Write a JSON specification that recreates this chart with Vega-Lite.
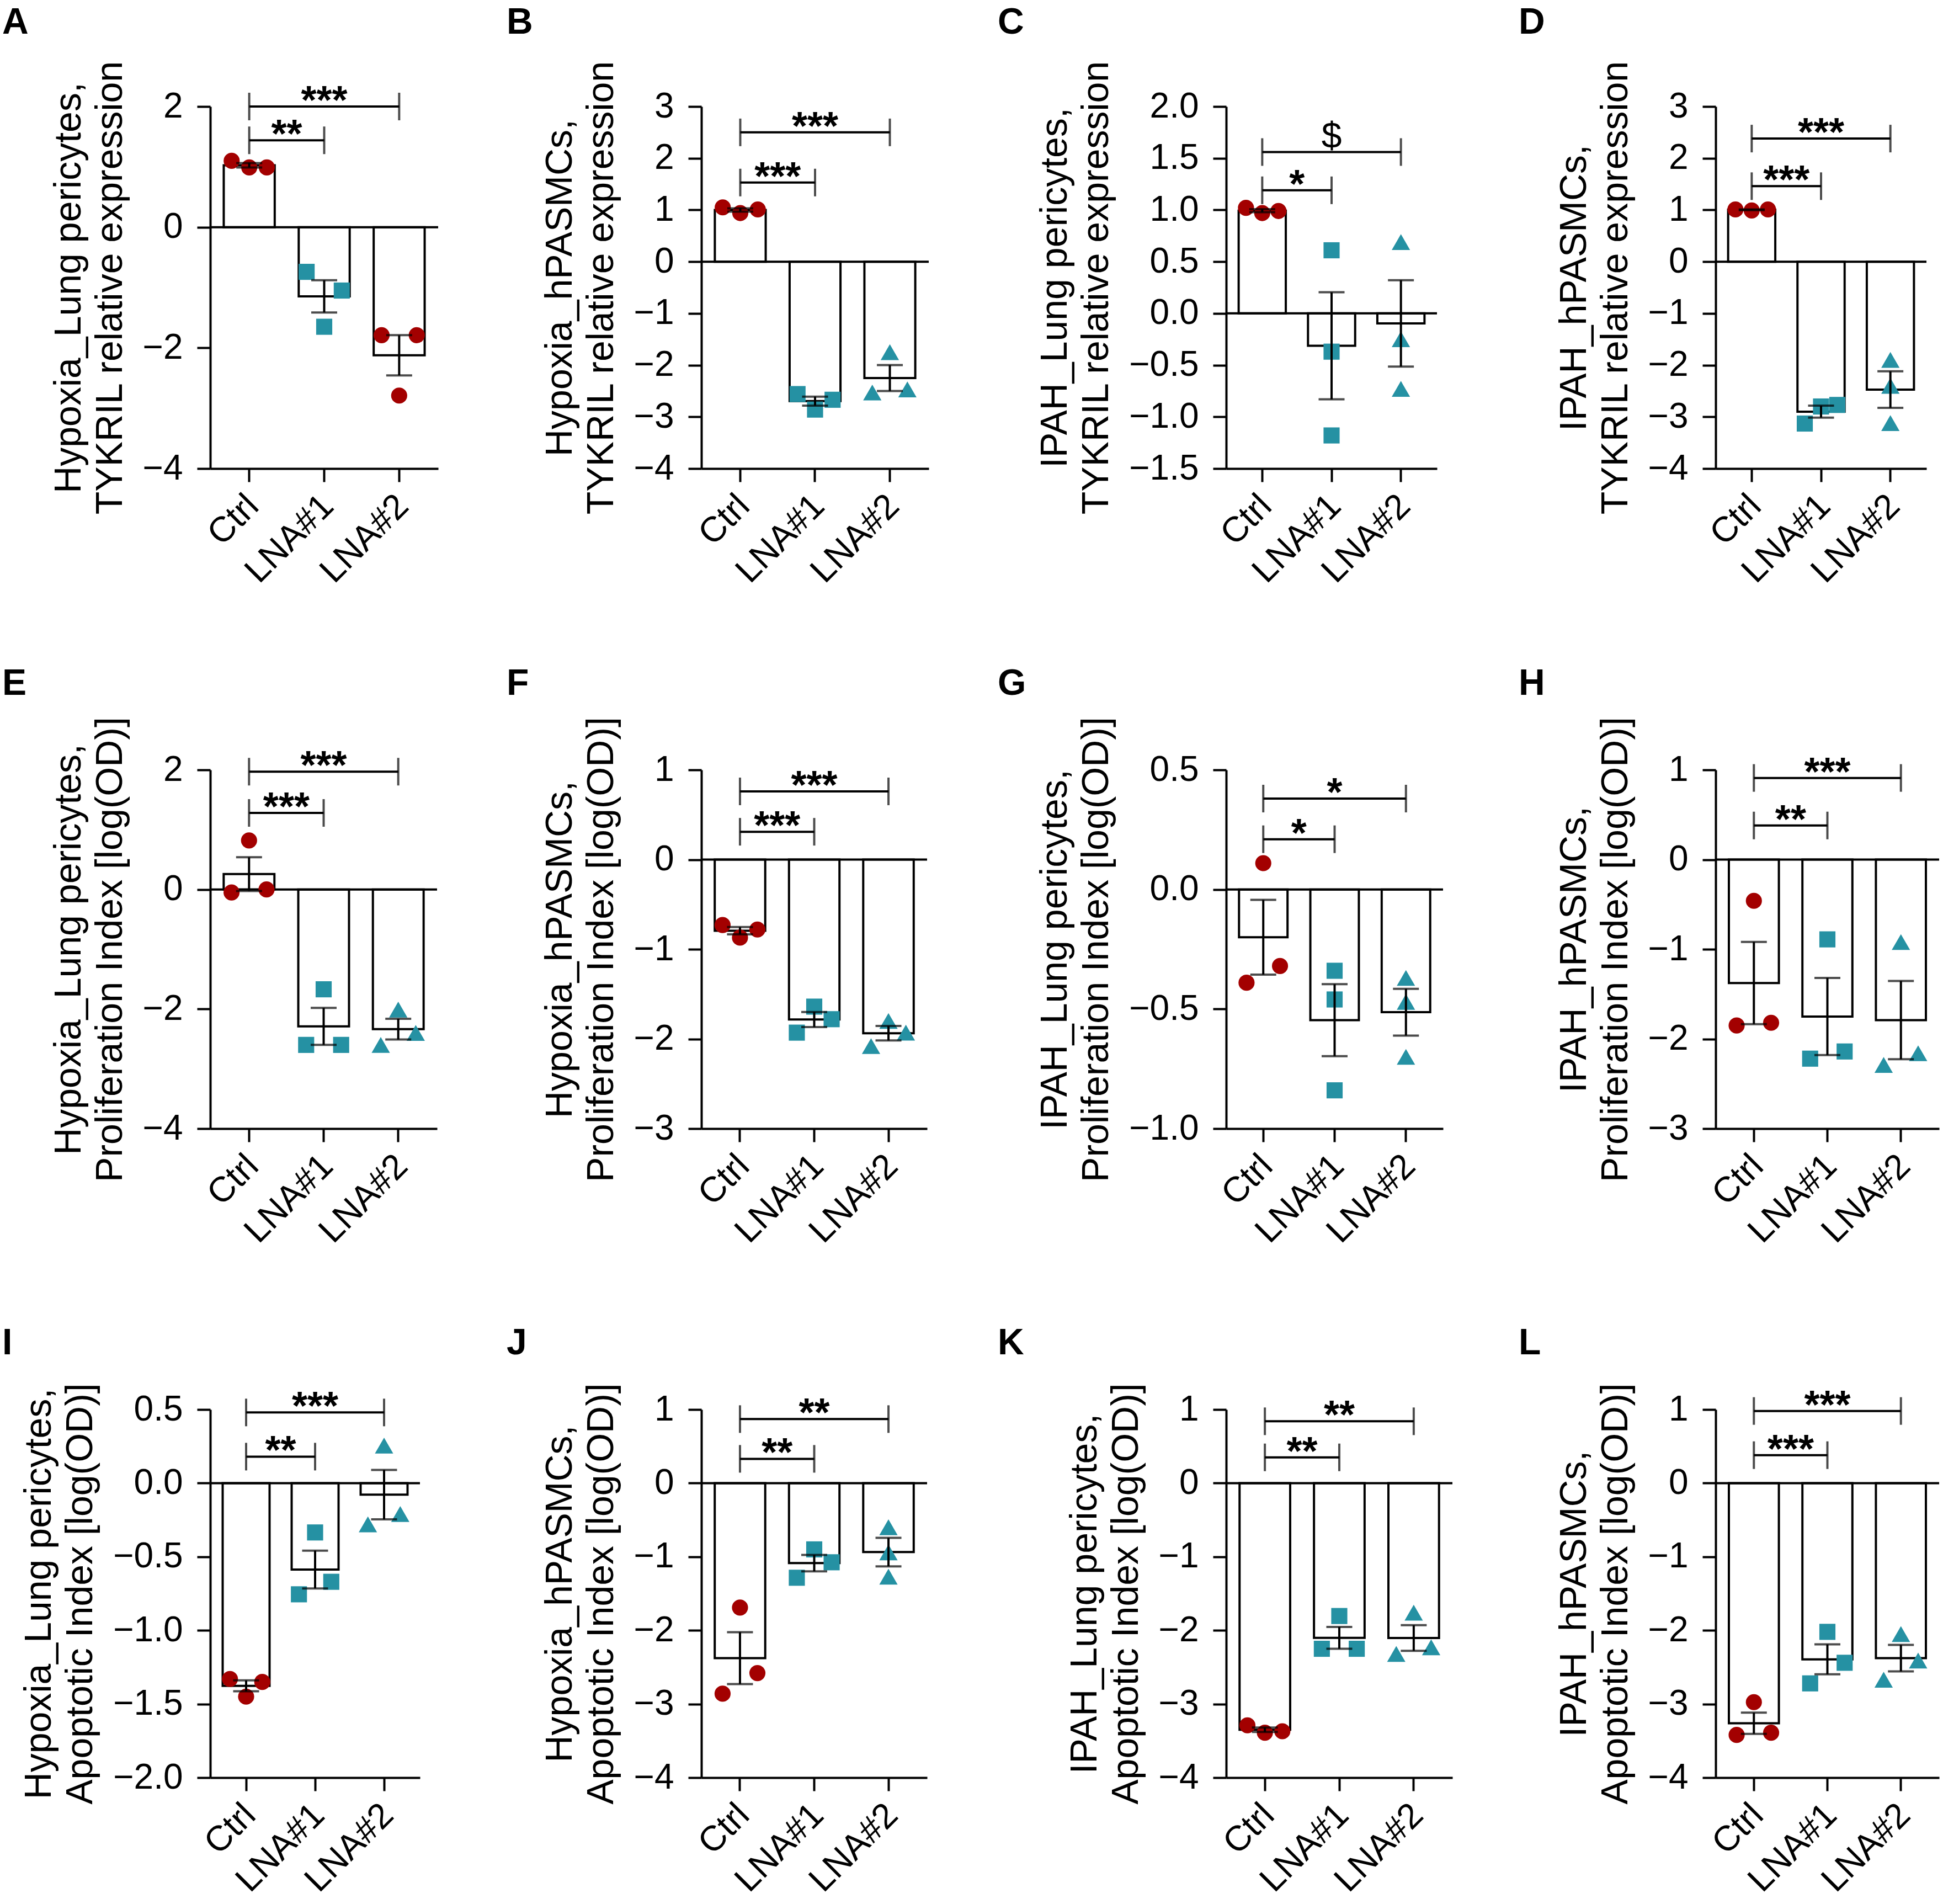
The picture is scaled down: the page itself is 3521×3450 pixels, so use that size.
{
"$schema": "https://vega.github.io/schema/vega-lite/v6.json",
"background": "white",
"padding": {"left": 4, "top": 8, "right": 0, "bottom": 0},
"config": {
 "font": "Liberation Sans",
 "view": {"stroke": null},
 "axis": {"grid": false, "domainColor": "black", "domainWidth": 4, "tickColor": "black", "tickWidth": 4, "labelColor": "black", "labelFont": "Liberation Sans", "labelFontSize": 64, "titleColor": "black", "titleFont": "Liberation Sans", "titleFontSize": 68, "titleFontWeight": "normal", "labelOverlap": false, "labelBound": false, "labelLimit": 0},
 "axisY": {"tickSize": 24, "labelPadding": 26, "titlePadding": 24, "titleLineHeight": 75},
 "axisX": {"tickSize": 24, "labelAngle": -45, "labelAlign": "right", "labelBaseline": "middle", "labelPadding": 34, "labelOffset": 7, "labelLimit": 0},
 "title": {"anchor": "start", "frame": "group", "font": "Liberation Sans", "fontSize": 66, "fontWeight": "bold", "color": "black", "baseline": "alphabetic"}
},
"datasets": {
 "pts": [
  {"p":"A","g":"Ctrl","r":"L","v":1.10},{"p":"A","g":"Ctrl","r":"C","v":0.99},{"p":"A","g":"Ctrl","r":"R","v":0.99},
  {"p":"A","g":"LNA#1","r":"L","v":-0.74},{"p":"A","g":"LNA#1","r":"C","v":-1.65},{"p":"A","g":"LNA#1","r":"R","v":-1.05},
  {"p":"A","g":"LNA#2","r":"L","v":-1.79},{"p":"A","g":"LNA#2","r":"C","v":-2.79},{"p":"A","g":"LNA#2","r":"R","v":-1.79},
  {"p":"B","g":"Ctrl","r":"L","v":1.05},{"p":"B","g":"Ctrl","r":"C","v":0.94},{"p":"B","g":"Ctrl","r":"R","v":1.01},
  {"p":"B","g":"LNA#1","r":"L","v":-2.56},{"p":"B","g":"LNA#1","r":"C","v":-2.86},{"p":"B","g":"LNA#1","r":"R","v":-2.67},
  {"p":"B","g":"LNA#2","r":"L","v":-2.53},{"p":"B","g":"LNA#2","r":"C","v":-1.75},{"p":"B","g":"LNA#2","r":"R","v":-2.47},
  {"p":"C","g":"Ctrl","r":"L","v":1.02},{"p":"C","g":"Ctrl","r":"C","v":0.97},{"p":"C","g":"Ctrl","r":"R","v":0.99},
  {"p":"C","g":"LNA#1","r":"C","v":0.61},{"p":"C","g":"LNA#1","r":"C","v":-0.37},{"p":"C","g":"LNA#1","r":"C","v":-1.18},
  {"p":"C","g":"LNA#2","r":"C","v":0.69},{"p":"C","g":"LNA#2","r":"C","v":-0.25},{"p":"C","g":"LNA#2","r":"C","v":-0.73},
  {"p":"D","g":"Ctrl","r":"L","v":1.01},{"p":"D","g":"Ctrl","r":"C","v":0.99},{"p":"D","g":"Ctrl","r":"R","v":1.01},
  {"p":"D","g":"LNA#1","r":"L","v":-3.13},{"p":"D","g":"LNA#1","r":"C","v":-2.80},{"p":"D","g":"LNA#1","r":"R","v":-2.77},
  {"p":"D","g":"LNA#2","r":"C","v":-1.90},{"p":"D","g":"LNA#2","r":"C","v":-2.40},{"p":"D","g":"LNA#2","r":"C","v":-3.12},
  {"p":"E","g":"Ctrl","r":"C","v":0.82},{"p":"E","g":"Ctrl","r":"L","v":-0.05},{"p":"E","g":"Ctrl","r":"R","v":0.0},
  {"p":"E","g":"LNA#1","r":"C","v":-1.67},{"p":"E","g":"LNA#1","r":"L","v":-2.60},{"p":"E","g":"LNA#1","r":"R","v":-2.60},
  {"p":"E","g":"LNA#2","r":"C","v":-2.01},{"p":"E","g":"LNA#2","r":"L","v":-2.60},{"p":"E","g":"LNA#2","r":"R","v":-2.40},
  {"p":"F","g":"Ctrl","r":"L","v":-0.73},{"p":"F","g":"Ctrl","r":"C","v":-0.87},{"p":"F","g":"Ctrl","r":"R","v":-0.78},
  {"p":"F","g":"LNA#1","r":"C","v":-1.64},{"p":"F","g":"LNA#1","r":"L","v":-1.93},{"p":"F","g":"LNA#1","r":"R","v":-1.78},
  {"p":"F","g":"LNA#2","r":"C","v":-1.80},{"p":"F","g":"LNA#2","r":"L","v":-2.08},{"p":"F","g":"LNA#2","r":"R","v":-1.93},
  {"p":"G","g":"Ctrl","r":"C","v":0.11},{"p":"G","g":"Ctrl","r":"R","v":-0.32},{"p":"G","g":"Ctrl","r":"L","v":-0.39},
  {"p":"G","g":"LNA#1","r":"C","v":-0.34},{"p":"G","g":"LNA#1","r":"C","v":-0.46},{"p":"G","g":"LNA#1","r":"C","v":-0.84},
  {"p":"G","g":"LNA#2","r":"C","v":-0.37},{"p":"G","g":"LNA#2","r":"C","v":-0.47},{"p":"G","g":"LNA#2","r":"C","v":-0.70},
  {"p":"H","g":"Ctrl","r":"C","v":-0.46},{"p":"H","g":"Ctrl","r":"L","v":-1.85},{"p":"H","g":"Ctrl","r":"R","v":-1.82},
  {"p":"H","g":"LNA#1","r":"C","v":-0.89},{"p":"H","g":"LNA#1","r":"L","v":-2.22},{"p":"H","g":"LNA#1","r":"R","v":-2.14},
  {"p":"H","g":"LNA#2","r":"C","v":-0.92},{"p":"H","g":"LNA#2","r":"L","v":-2.29},{"p":"H","g":"LNA#2","r":"R","v":-2.16},
  {"p":"I","g":"Ctrl","r":"L","v":-1.33},{"p":"I","g":"Ctrl","r":"R","v":-1.35},{"p":"I","g":"Ctrl","r":"C","v":-1.45},
  {"p":"I","g":"LNA#1","r":"C","v":-0.335},{"p":"I","g":"LNA#1","r":"R","v":-0.67},{"p":"I","g":"LNA#1","r":"L","v":-0.755},
  {"p":"I","g":"LNA#2","r":"C","v":0.255},{"p":"I","g":"LNA#2","r":"R","v":-0.21},{"p":"I","g":"LNA#2","r":"L","v":-0.28},
  {"p":"J","g":"Ctrl","r":"C","v":-1.69},{"p":"J","g":"Ctrl","r":"R","v":-2.58},{"p":"J","g":"Ctrl","r":"L","v":-2.86},
  {"p":"J","g":"LNA#1","r":"C","v":-0.90},{"p":"J","g":"LNA#1","r":"R","v":-1.075},{"p":"J","g":"LNA#1","r":"L","v":-1.285},
  {"p":"J","g":"LNA#2","r":"C","v":-0.60},{"p":"J","g":"LNA#2","r":"C","v":-0.94},{"p":"J","g":"LNA#2","r":"C","v":-1.27},
  {"p":"K","g":"Ctrl","r":"L","v":-3.29},{"p":"K","g":"Ctrl","r":"C","v":-3.39},{"p":"K","g":"Ctrl","r":"R","v":-3.37},
  {"p":"K","g":"LNA#1","r":"C","v":-1.805},{"p":"K","g":"LNA#1","r":"L","v":-2.25},{"p":"K","g":"LNA#1","r":"R","v":-2.25},
  {"p":"K","g":"LNA#2","r":"C","v":-1.76},{"p":"K","g":"LNA#2","r":"L","v":-2.32},{"p":"K","g":"LNA#2","r":"R","v":-2.23},
  {"p":"L","g":"Ctrl","r":"C","v":-2.975},{"p":"L","g":"Ctrl","r":"L","v":-3.42},{"p":"L","g":"Ctrl","r":"R","v":-3.39},
  {"p":"L","g":"LNA#1","r":"C","v":-2.02},{"p":"L","g":"LNA#1","r":"R","v":-2.44},{"p":"L","g":"LNA#1","r":"L","v":-2.72},
  {"p":"L","g":"LNA#2","r":"C","v":-2.05},{"p":"L","g":"LNA#2","r":"R","v":-2.41},{"p":"L","g":"LNA#2","r":"L","v":-2.67}
 ],
 "sig": [
  {"p":"A","b":"s","g":"Ctrl","v":1.44,"t":"**"},{"p":"A","b":"s","g":"LNA#1","v":1.44,"t":"**"},{"p":"A","b":"l","g":"Ctrl","v":2.0,"t":"***"},{"p":"A","b":"l","g":"LNA#2","v":2.0,"t":"***"},
  {"p":"B","b":"s","g":"Ctrl","v":1.53,"t":"***"},{"p":"B","b":"s","g":"LNA#1","v":1.53,"t":"***"},{"p":"B","b":"l","g":"Ctrl","v":2.5,"t":"***"},{"p":"B","b":"l","g":"LNA#2","v":2.5,"t":"***"},
  {"p":"C","b":"s","g":"Ctrl","v":1.19,"t":"*"},{"p":"C","b":"s","g":"LNA#1","v":1.19,"t":"*"},{"p":"C","b":"l","g":"Ctrl","v":1.56,"t":"$"},{"p":"C","b":"l","g":"LNA#2","v":1.56,"t":"$"},
  {"p":"D","b":"s","g":"Ctrl","v":1.46,"t":"***"},{"p":"D","b":"s","g":"LNA#1","v":1.46,"t":"***"},{"p":"D","b":"l","g":"Ctrl","v":2.38,"t":"***"},{"p":"D","b":"l","g":"LNA#2","v":2.38,"t":"***"},
  {"p":"E","b":"s","g":"Ctrl","v":1.28,"t":"***"},{"p":"E","b":"s","g":"LNA#1","v":1.28,"t":"***"},{"p":"E","b":"l","g":"Ctrl","v":1.97,"t":"***"},{"p":"E","b":"l","g":"LNA#2","v":1.97,"t":"***"},
  {"p":"F","b":"s","g":"Ctrl","v":0.31,"t":"***"},{"p":"F","b":"s","g":"LNA#1","v":0.31,"t":"***"},{"p":"F","b":"l","g":"Ctrl","v":0.76,"t":"***"},{"p":"F","b":"l","g":"LNA#2","v":0.76,"t":"***"},
  {"p":"G","b":"s","g":"Ctrl","v":0.21,"t":"*"},{"p":"G","b":"s","g":"LNA#1","v":0.21,"t":"*"},{"p":"G","b":"l","g":"Ctrl","v":0.38,"t":"*"},{"p":"G","b":"l","g":"LNA#2","v":0.38,"t":"*"},
  {"p":"H","b":"s","g":"Ctrl","v":0.38,"t":"**"},{"p":"H","b":"s","g":"LNA#1","v":0.38,"t":"**"},{"p":"H","b":"l","g":"Ctrl","v":0.91,"t":"***"},{"p":"H","b":"l","g":"LNA#2","v":0.91,"t":"***"},
  {"p":"I","b":"s","g":"Ctrl","v":0.18,"t":"**"},{"p":"I","b":"s","g":"LNA#1","v":0.18,"t":"**"},{"p":"I","b":"l","g":"Ctrl","v":0.48,"t":"***"},{"p":"I","b":"l","g":"LNA#2","v":0.48,"t":"***"},
  {"p":"J","b":"s","g":"Ctrl","v":0.33,"t":"**"},{"p":"J","b":"s","g":"LNA#1","v":0.33,"t":"**"},{"p":"J","b":"l","g":"Ctrl","v":0.87,"t":"**"},{"p":"J","b":"l","g":"LNA#2","v":0.87,"t":"**"},
  {"p":"K","b":"s","g":"Ctrl","v":0.35,"t":"**"},{"p":"K","b":"s","g":"LNA#1","v":0.35,"t":"**"},{"p":"K","b":"l","g":"Ctrl","v":0.84,"t":"**"},{"p":"K","b":"l","g":"LNA#2","v":0.84,"t":"**"},
  {"p":"L","b":"s","g":"Ctrl","v":0.38,"t":"***"},{"p":"L","b":"s","g":"LNA#1","v":0.38,"t":"***"},{"p":"L","b":"l","g":"Ctrl","v":0.98,"t":"***"},{"p":"L","b":"l","g":"LNA#2","v":0.98,"t":"***"}
 ]
},
"columns": 7,
"spacing": {"row": 0, "column": 0},
"bounds": "flush",
"resolve": {"scale": {"x": "independent", "y": "independent", "xOffset": "independent"}},
"concat": [
{"width":413,"height":656,"title":{"text":"A","dx":-377,"offset":34},"resolve":{"scale":{"xOffset":"independent"}},"layer":[
{"data":{"name":"pts"},"transform":[{"filter":"datum.p==='A'"}],"mark":{"type":"bar","fill":"white","stroke":"black","strokeWidth":4},"encoding":{"x":{"field":"g","type":"nominal","title":null,"scale":{"type":"band","domain":["Ctrl","LNA#1","LNA#2"],"paddingInner":0.32,"paddingOuter":0.18}},"y":{"aggregate":"mean","field":"v","type":"quantitative","title":["Hypoxia_Lung pericytes,","TYKRIL relative expression"],"scale":{"domain":[-4,2],"nice":false},"axis":{"values":[-4,-2,0,2],"format":"d"}}}},
{"data":{"values":[{}]},"mark":{"type":"rule","color":"black","strokeWidth":4},"encoding":{"y":{"datum":0,"type":"quantitative","title":["Hypoxia_Lung pericytes,","TYKRIL relative expression"],"scale":{"domain":[-4,2],"nice":false}}}},
{"data":{"name":"pts"},"transform":[{"filter":"datum.p==='A'"}],"mark":{"type":"point","filled":true,"opacity":1},"encoding":{"x":{"field":"g","type":"nominal","title":null,"scale":{"type":"band","domain":["Ctrl","LNA#1","LNA#2"],"paddingInner":0.32,"paddingOuter":0.18}},"xOffset":{"field":"r","type":"nominal","scale":{"domain":["L","C","R"],"paddingInner":0,"paddingOuter":0.45}},"y":{"field":"v","type":"quantitative","title":["Hypoxia_Lung pericytes,","TYKRIL relative expression"],"scale":{"domain":[-4,2],"nice":false}},"color":{"condition":{"test":"datum.g==='Ctrl' || (datum.p==='A' && datum.g==='LNA#2')","value":"#a30000"},"value":"#2591a3"},"shape":{"condition":[{"test":"datum.g==='Ctrl' || (datum.p==='A' && datum.g==='LNA#2')","value":"circle"},{"test":"datum.g==='LNA#1'","value":"square"}],"value":"triangle-up"},"size":{"condition":{"test":"datum.g==='LNA#2' && datum.p!=='A'","value":1100},"value":850}}},
{"data":{"name":"pts"},"transform":[{"filter":"datum.p==='A'"}],"mark":{"type":"errorbar","extent":"stderr","ticks":{"size":47,"thickness":4,"color":"black"},"rule":{"strokeWidth":4,"color":"black"}},"encoding":{"x":{"field":"g","type":"nominal","title":null,"scale":{"type":"band","domain":["Ctrl","LNA#1","LNA#2"],"paddingInner":0.32,"paddingOuter":0.18}},"y":{"field":"v","type":"quantitative","title":["Hypoxia_Lung pericytes,","TYKRIL relative expression"],"scale":{"domain":[-4,2],"nice":false}}}},
{"data":{"name":"sig"},"transform":[{"filter":"datum.p==='A'"}],"mark":{"type":"line","color":"black","strokeWidth":4},"encoding":{"x":{"field":"g","type":"nominal","title":null,"scale":{"type":"band","domain":["Ctrl","LNA#1","LNA#2"],"paddingInner":0.32,"paddingOuter":0.18}},"y":{"field":"v","type":"quantitative","title":["Hypoxia_Lung pericytes,","TYKRIL relative expression"],"scale":{"domain":[-4,2],"nice":false}},"detail":{"field":"b"}}},
{"data":{"name":"sig"},"transform":[{"filter":"datum.p==='A'"}],"mark":{"type":"tick","orient":"vertical","size":50,"thickness":4,"color":"black"},"encoding":{"x":{"field":"g","type":"nominal","title":null,"scale":{"type":"band","domain":["Ctrl","LNA#1","LNA#2"],"paddingInner":0.32,"paddingOuter":0.18}},"y":{"field":"v","type":"quantitative","title":["Hypoxia_Lung pericytes,","TYKRIL relative expression"],"scale":{"domain":[-4,2],"nice":false}}}},
{"data":{"name":"sig"},"transform":[{"filter":"datum.p==='A' && datum.b==='s' && datum.g==='Ctrl'"}],"mark":{"type":"text","font":"Liberation Sans","fontSize":72,"fontWeight":"bold","baseline":"alphabetic","align":"center","dy":13,"color":"black"},"encoding":{"x":{"field":"g","type":"nominal","title":null,"bandPosition":1.2353,"scale":{"type":"band","domain":["Ctrl","LNA#1","LNA#2"],"paddingInner":0.32,"paddingOuter":0.18}},"y":{"field":"v","type":"quantitative","title":["Hypoxia_Lung pericytes,","TYKRIL relative expression"],"scale":{"domain":[-4,2],"nice":false}},"text":{"field":"t"}}},
{"data":{"name":"sig"},"transform":[{"filter":"datum.p==='A' && datum.b==='l' && datum.g==='Ctrl'"}],"mark":{"type":"text","font":"Liberation Sans","fontSize":72,"fontWeight":"bold","baseline":"alphabetic","align":"center","dy":13,"color":"black"},"encoding":{"x":{"field":"g","type":"nominal","title":null,"bandPosition":1.9706,"scale":{"type":"band","domain":["Ctrl","LNA#1","LNA#2"],"paddingInner":0.32,"paddingOuter":0.18}},"y":{"field":"v","type":"quantitative","title":["Hypoxia_Lung pericytes,","TYKRIL relative expression"],"scale":{"domain":[-4,2],"nice":false}},"text":{"field":"t"}}}
]},
{"width":477,"height":10,"data":{"values":[{}]},"mark":{"type":"point","opacity":0}},
{"width":412,"height":656,"title":{"text":"B","dx":-353,"offset":34},"resolve":{"scale":{"xOffset":"independent"}},"layer":[
{"data":{"name":"pts"},"transform":[{"filter":"datum.p==='B'"}],"mark":{"type":"bar","fill":"white","stroke":"black","strokeWidth":4},"encoding":{"x":{"field":"g","type":"nominal","title":null,"scale":{"type":"band","domain":["Ctrl","LNA#1","LNA#2"],"paddingInner":0.32,"paddingOuter":0.18}},"y":{"aggregate":"mean","field":"v","type":"quantitative","title":["Hypoxia_hPASMCs,","TYKRIL relative expression"],"scale":{"domain":[-4,3],"nice":false},"axis":{"values":[-4,-3,-2,-1,0,1,2,3],"format":"d"}}}},
{"data":{"values":[{}]},"mark":{"type":"rule","color":"black","strokeWidth":4},"encoding":{"y":{"datum":0,"type":"quantitative","title":["Hypoxia_hPASMCs,","TYKRIL relative expression"],"scale":{"domain":[-4,3],"nice":false}}}},
{"data":{"name":"pts"},"transform":[{"filter":"datum.p==='B'"}],"mark":{"type":"point","filled":true,"opacity":1},"encoding":{"x":{"field":"g","type":"nominal","title":null,"scale":{"type":"band","domain":["Ctrl","LNA#1","LNA#2"],"paddingInner":0.32,"paddingOuter":0.18}},"xOffset":{"field":"r","type":"nominal","scale":{"domain":["L","C","R"],"paddingInner":0,"paddingOuter":0.45}},"y":{"field":"v","type":"quantitative","title":["Hypoxia_hPASMCs,","TYKRIL relative expression"],"scale":{"domain":[-4,3],"nice":false}},"color":{"condition":{"test":"datum.g==='Ctrl' || (datum.p==='A' && datum.g==='LNA#2')","value":"#a30000"},"value":"#2591a3"},"shape":{"condition":[{"test":"datum.g==='Ctrl' || (datum.p==='A' && datum.g==='LNA#2')","value":"circle"},{"test":"datum.g==='LNA#1'","value":"square"}],"value":"triangle-up"},"size":{"condition":{"test":"datum.g==='LNA#2' && datum.p!=='A'","value":1100},"value":850}}},
{"data":{"name":"pts"},"transform":[{"filter":"datum.p==='B'"}],"mark":{"type":"errorbar","extent":"stderr","ticks":{"size":47,"thickness":4,"color":"black"},"rule":{"strokeWidth":4,"color":"black"}},"encoding":{"x":{"field":"g","type":"nominal","title":null,"scale":{"type":"band","domain":["Ctrl","LNA#1","LNA#2"],"paddingInner":0.32,"paddingOuter":0.18}},"y":{"field":"v","type":"quantitative","title":["Hypoxia_hPASMCs,","TYKRIL relative expression"],"scale":{"domain":[-4,3],"nice":false}}}},
{"data":{"name":"sig"},"transform":[{"filter":"datum.p==='B'"}],"mark":{"type":"line","color":"black","strokeWidth":4},"encoding":{"x":{"field":"g","type":"nominal","title":null,"scale":{"type":"band","domain":["Ctrl","LNA#1","LNA#2"],"paddingInner":0.32,"paddingOuter":0.18}},"y":{"field":"v","type":"quantitative","title":["Hypoxia_hPASMCs,","TYKRIL relative expression"],"scale":{"domain":[-4,3],"nice":false}},"detail":{"field":"b"}}},
{"data":{"name":"sig"},"transform":[{"filter":"datum.p==='B'"}],"mark":{"type":"tick","orient":"vertical","size":50,"thickness":4,"color":"black"},"encoding":{"x":{"field":"g","type":"nominal","title":null,"scale":{"type":"band","domain":["Ctrl","LNA#1","LNA#2"],"paddingInner":0.32,"paddingOuter":0.18}},"y":{"field":"v","type":"quantitative","title":["Hypoxia_hPASMCs,","TYKRIL relative expression"],"scale":{"domain":[-4,3],"nice":false}}}},
{"data":{"name":"sig"},"transform":[{"filter":"datum.p==='B' && datum.b==='s' && datum.g==='Ctrl'"}],"mark":{"type":"text","font":"Liberation Sans","fontSize":72,"fontWeight":"bold","baseline":"alphabetic","align":"center","dy":13,"color":"black"},"encoding":{"x":{"field":"g","type":"nominal","title":null,"bandPosition":1.2353,"scale":{"type":"band","domain":["Ctrl","LNA#1","LNA#2"],"paddingInner":0.32,"paddingOuter":0.18}},"y":{"field":"v","type":"quantitative","title":["Hypoxia_hPASMCs,","TYKRIL relative expression"],"scale":{"domain":[-4,3],"nice":false}},"text":{"field":"t"}}},
{"data":{"name":"sig"},"transform":[{"filter":"datum.p==='B' && datum.b==='l' && datum.g==='Ctrl'"}],"mark":{"type":"text","font":"Liberation Sans","fontSize":72,"fontWeight":"bold","baseline":"alphabetic","align":"center","dy":13,"color":"black"},"encoding":{"x":{"field":"g","type":"nominal","title":null,"bandPosition":1.9706,"scale":{"type":"band","domain":["Ctrl","LNA#1","LNA#2"],"paddingInner":0.32,"paddingOuter":0.18}},"y":{"field":"v","type":"quantitative","title":["Hypoxia_hPASMCs,","TYKRIL relative expression"],"scale":{"domain":[-4,3],"nice":false}},"text":{"field":"t"}}}
]},
{"width":539,"height":10,"data":{"values":[{}]},"mark":{"type":"point","opacity":0}},
{"width":382,"height":656,"title":{"text":"C","dx":-414,"offset":34},"resolve":{"scale":{"xOffset":"independent"}},"layer":[
{"data":{"name":"pts"},"transform":[{"filter":"datum.p==='C'"}],"mark":{"type":"bar","fill":"white","stroke":"black","strokeWidth":4},"encoding":{"x":{"field":"g","type":"nominal","title":null,"scale":{"type":"band","domain":["Ctrl","LNA#1","LNA#2"],"paddingInner":0.32,"paddingOuter":0.18}},"y":{"aggregate":"mean","field":"v","type":"quantitative","title":["IPAH_Lung pericytes,","TYKRIL relative expression"],"scale":{"domain":[-1.5,2],"nice":false},"axis":{"values":[-1.5,-1,-0.5,0,0.5,1,1.5,2],"format":".1f"}}}},
{"data":{"values":[{}]},"mark":{"type":"rule","color":"black","strokeWidth":4},"encoding":{"y":{"datum":0,"type":"quantitative","title":["IPAH_Lung pericytes,","TYKRIL relative expression"],"scale":{"domain":[-1.5,2],"nice":false}}}},
{"data":{"name":"pts"},"transform":[{"filter":"datum.p==='C'"}],"mark":{"type":"point","filled":true,"opacity":1},"encoding":{"x":{"field":"g","type":"nominal","title":null,"scale":{"type":"band","domain":["Ctrl","LNA#1","LNA#2"],"paddingInner":0.32,"paddingOuter":0.18}},"xOffset":{"field":"r","type":"nominal","scale":{"domain":["L","C","R"],"paddingInner":0,"paddingOuter":0.45}},"y":{"field":"v","type":"quantitative","title":["IPAH_Lung pericytes,","TYKRIL relative expression"],"scale":{"domain":[-1.5,2],"nice":false}},"color":{"condition":{"test":"datum.g==='Ctrl' || (datum.p==='A' && datum.g==='LNA#2')","value":"#a30000"},"value":"#2591a3"},"shape":{"condition":[{"test":"datum.g==='Ctrl' || (datum.p==='A' && datum.g==='LNA#2')","value":"circle"},{"test":"datum.g==='LNA#1'","value":"square"}],"value":"triangle-up"},"size":{"condition":{"test":"datum.g==='LNA#2' && datum.p!=='A'","value":1100},"value":850}}},
{"data":{"name":"pts"},"transform":[{"filter":"datum.p==='C'"}],"mark":{"type":"errorbar","extent":"stderr","ticks":{"size":47,"thickness":4,"color":"black"},"rule":{"strokeWidth":4,"color":"black"}},"encoding":{"x":{"field":"g","type":"nominal","title":null,"scale":{"type":"band","domain":["Ctrl","LNA#1","LNA#2"],"paddingInner":0.32,"paddingOuter":0.18}},"y":{"field":"v","type":"quantitative","title":["IPAH_Lung pericytes,","TYKRIL relative expression"],"scale":{"domain":[-1.5,2],"nice":false}}}},
{"data":{"name":"sig"},"transform":[{"filter":"datum.p==='C'"}],"mark":{"type":"line","color":"black","strokeWidth":4},"encoding":{"x":{"field":"g","type":"nominal","title":null,"scale":{"type":"band","domain":["Ctrl","LNA#1","LNA#2"],"paddingInner":0.32,"paddingOuter":0.18}},"y":{"field":"v","type":"quantitative","title":["IPAH_Lung pericytes,","TYKRIL relative expression"],"scale":{"domain":[-1.5,2],"nice":false}},"detail":{"field":"b"}}},
{"data":{"name":"sig"},"transform":[{"filter":"datum.p==='C'"}],"mark":{"type":"tick","orient":"vertical","size":50,"thickness":4,"color":"black"},"encoding":{"x":{"field":"g","type":"nominal","title":null,"scale":{"type":"band","domain":["Ctrl","LNA#1","LNA#2"],"paddingInner":0.32,"paddingOuter":0.18}},"y":{"field":"v","type":"quantitative","title":["IPAH_Lung pericytes,","TYKRIL relative expression"],"scale":{"domain":[-1.5,2],"nice":false}}}},
{"data":{"name":"sig"},"transform":[{"filter":"datum.p==='C' && datum.b==='s' && datum.g==='Ctrl'"}],"mark":{"type":"text","font":"Liberation Sans","fontSize":72,"fontWeight":"bold","baseline":"alphabetic","align":"center","dy":13,"color":"black"},"encoding":{"x":{"field":"g","type":"nominal","title":null,"bandPosition":1.2353,"scale":{"type":"band","domain":["Ctrl","LNA#1","LNA#2"],"paddingInner":0.32,"paddingOuter":0.18}},"y":{"field":"v","type":"quantitative","title":["IPAH_Lung pericytes,","TYKRIL relative expression"],"scale":{"domain":[-1.5,2],"nice":false}},"text":{"field":"t"}}},
{"data":{"name":"sig"},"transform":[{"filter":"datum.p==='C' && datum.b==='l' && datum.g==='Ctrl'"}],"mark":{"type":"text","font":"Liberation Sans","fontSize":66,"baseline":"alphabetic","align":"center","dy":-7,"color":"black"},"encoding":{"x":{"field":"g","type":"nominal","title":null,"bandPosition":1.9706,"scale":{"type":"band","domain":["Ctrl","LNA#1","LNA#2"],"paddingInner":0.32,"paddingOuter":0.18}},"y":{"field":"v","type":"quantitative","title":["IPAH_Lung pericytes,","TYKRIL relative expression"],"scale":{"domain":[-1.5,2],"nice":false}},"text":{"field":"t"}}}
]},
{"width":477,"height":10,"data":{"values":[{}]},"mark":{"type":"point","opacity":0}},
{"width":382,"height":656,"title":{"text":"D","dx":-357,"offset":34},"resolve":{"scale":{"xOffset":"independent"}},"layer":[
{"data":{"name":"pts"},"transform":[{"filter":"datum.p==='D'"}],"mark":{"type":"bar","fill":"white","stroke":"black","strokeWidth":4},"encoding":{"x":{"field":"g","type":"nominal","title":null,"scale":{"type":"band","domain":["Ctrl","LNA#1","LNA#2"],"paddingInner":0.32,"paddingOuter":0.18}},"y":{"aggregate":"mean","field":"v","type":"quantitative","title":["IPAH_hPASMCs,","TYKRIL relative expression"],"scale":{"domain":[-4,3],"nice":false},"axis":{"values":[-4,-3,-2,-1,0,1,2,3],"format":"d"}}}},
{"data":{"values":[{}]},"mark":{"type":"rule","color":"black","strokeWidth":4},"encoding":{"y":{"datum":0,"type":"quantitative","title":["IPAH_hPASMCs,","TYKRIL relative expression"],"scale":{"domain":[-4,3],"nice":false}}}},
{"data":{"name":"pts"},"transform":[{"filter":"datum.p==='D'"}],"mark":{"type":"point","filled":true,"opacity":1},"encoding":{"x":{"field":"g","type":"nominal","title":null,"scale":{"type":"band","domain":["Ctrl","LNA#1","LNA#2"],"paddingInner":0.32,"paddingOuter":0.18}},"xOffset":{"field":"r","type":"nominal","scale":{"domain":["L","C","R"],"paddingInner":0,"paddingOuter":0.45}},"y":{"field":"v","type":"quantitative","title":["IPAH_hPASMCs,","TYKRIL relative expression"],"scale":{"domain":[-4,3],"nice":false}},"color":{"condition":{"test":"datum.g==='Ctrl' || (datum.p==='A' && datum.g==='LNA#2')","value":"#a30000"},"value":"#2591a3"},"shape":{"condition":[{"test":"datum.g==='Ctrl' || (datum.p==='A' && datum.g==='LNA#2')","value":"circle"},{"test":"datum.g==='LNA#1'","value":"square"}],"value":"triangle-up"},"size":{"condition":{"test":"datum.g==='LNA#2' && datum.p!=='A'","value":1100},"value":850}}},
{"data":{"name":"pts"},"transform":[{"filter":"datum.p==='D'"}],"mark":{"type":"errorbar","extent":"stderr","ticks":{"size":47,"thickness":4,"color":"black"},"rule":{"strokeWidth":4,"color":"black"}},"encoding":{"x":{"field":"g","type":"nominal","title":null,"scale":{"type":"band","domain":["Ctrl","LNA#1","LNA#2"],"paddingInner":0.32,"paddingOuter":0.18}},"y":{"field":"v","type":"quantitative","title":["IPAH_hPASMCs,","TYKRIL relative expression"],"scale":{"domain":[-4,3],"nice":false}}}},
{"data":{"name":"sig"},"transform":[{"filter":"datum.p==='D'"}],"mark":{"type":"line","color":"black","strokeWidth":4},"encoding":{"x":{"field":"g","type":"nominal","title":null,"scale":{"type":"band","domain":["Ctrl","LNA#1","LNA#2"],"paddingInner":0.32,"paddingOuter":0.18}},"y":{"field":"v","type":"quantitative","title":["IPAH_hPASMCs,","TYKRIL relative expression"],"scale":{"domain":[-4,3],"nice":false}},"detail":{"field":"b"}}},
{"data":{"name":"sig"},"transform":[{"filter":"datum.p==='D'"}],"mark":{"type":"tick","orient":"vertical","size":50,"thickness":4,"color":"black"},"encoding":{"x":{"field":"g","type":"nominal","title":null,"scale":{"type":"band","domain":["Ctrl","LNA#1","LNA#2"],"paddingInner":0.32,"paddingOuter":0.18}},"y":{"field":"v","type":"quantitative","title":["IPAH_hPASMCs,","TYKRIL relative expression"],"scale":{"domain":[-4,3],"nice":false}}}},
{"data":{"name":"sig"},"transform":[{"filter":"datum.p==='D' && datum.b==='s' && datum.g==='Ctrl'"}],"mark":{"type":"text","font":"Liberation Sans","fontSize":72,"fontWeight":"bold","baseline":"alphabetic","align":"center","dy":13,"color":"black"},"encoding":{"x":{"field":"g","type":"nominal","title":null,"bandPosition":1.2353,"scale":{"type":"band","domain":["Ctrl","LNA#1","LNA#2"],"paddingInner":0.32,"paddingOuter":0.18}},"y":{"field":"v","type":"quantitative","title":["IPAH_hPASMCs,","TYKRIL relative expression"],"scale":{"domain":[-4,3],"nice":false}},"text":{"field":"t"}}},
{"data":{"name":"sig"},"transform":[{"filter":"datum.p==='D' && datum.b==='l' && datum.g==='Ctrl'"}],"mark":{"type":"text","font":"Liberation Sans","fontSize":72,"fontWeight":"bold","baseline":"alphabetic","align":"center","dy":13,"color":"black"},"encoding":{"x":{"field":"g","type":"nominal","title":null,"bandPosition":1.9706,"scale":{"type":"band","domain":["Ctrl","LNA#1","LNA#2"],"paddingInner":0.32,"paddingOuter":0.18}},"y":{"field":"v","type":"quantitative","title":["IPAH_hPASMCs,","TYKRIL relative expression"],"scale":{"domain":[-4,3],"nice":false}},"text":{"field":"t"}}}
]},
{"width":1,"height":546,"data":{"values":[{}]},"mark":{"type":"point","opacity":0}},
{"width":1,"height":546,"data":{"values":[{}]},"mark":{"type":"point","opacity":0}},
{"width":1,"height":546,"data":{"values":[{}]},"mark":{"type":"point","opacity":0}},
{"width":1,"height":546,"data":{"values":[{}]},"mark":{"type":"point","opacity":0}},
{"width":1,"height":546,"data":{"values":[{}]},"mark":{"type":"point","opacity":0}},
{"width":1,"height":546,"data":{"values":[{}]},"mark":{"type":"point","opacity":0}},
{"width":1,"height":546,"data":{"values":[{}]},"mark":{"type":"point","opacity":0}},
{"width":411,"height":650,"title":{"text":"E","dx":-377,"offset":26},"resolve":{"scale":{"xOffset":"independent"}},"layer":[
{"data":{"name":"pts"},"transform":[{"filter":"datum.p==='E'"}],"mark":{"type":"bar","fill":"white","stroke":"black","strokeWidth":4},"encoding":{"x":{"field":"g","type":"nominal","title":null,"scale":{"type":"band","domain":["Ctrl","LNA#1","LNA#2"],"paddingInner":0.32,"paddingOuter":0.18}},"y":{"aggregate":"mean","field":"v","type":"quantitative","title":["Hypoxia_Lung pericytes,","Proliferation Index [log(OD)]"],"scale":{"domain":[-4,2],"nice":false},"axis":{"values":[-4,-2,0,2],"format":"d"}}}},
{"data":{"values":[{}]},"mark":{"type":"rule","color":"black","strokeWidth":4},"encoding":{"y":{"datum":0,"type":"quantitative","title":["Hypoxia_Lung pericytes,","Proliferation Index [log(OD)]"],"scale":{"domain":[-4,2],"nice":false}}}},
{"data":{"name":"pts"},"transform":[{"filter":"datum.p==='E'"}],"mark":{"type":"point","filled":true,"opacity":1},"encoding":{"x":{"field":"g","type":"nominal","title":null,"scale":{"type":"band","domain":["Ctrl","LNA#1","LNA#2"],"paddingInner":0.32,"paddingOuter":0.18}},"xOffset":{"field":"r","type":"nominal","scale":{"domain":["L","C","R"],"paddingInner":0,"paddingOuter":0.45}},"y":{"field":"v","type":"quantitative","title":["Hypoxia_Lung pericytes,","Proliferation Index [log(OD)]"],"scale":{"domain":[-4,2],"nice":false}},"color":{"condition":{"test":"datum.g==='Ctrl' || (datum.p==='A' && datum.g==='LNA#2')","value":"#a30000"},"value":"#2591a3"},"shape":{"condition":[{"test":"datum.g==='Ctrl' || (datum.p==='A' && datum.g==='LNA#2')","value":"circle"},{"test":"datum.g==='LNA#1'","value":"square"}],"value":"triangle-up"},"size":{"condition":{"test":"datum.g==='LNA#2' && datum.p!=='A'","value":1100},"value":850}}},
{"data":{"name":"pts"},"transform":[{"filter":"datum.p==='E'"}],"mark":{"type":"errorbar","extent":"stderr","ticks":{"size":47,"thickness":4,"color":"black"},"rule":{"strokeWidth":4,"color":"black"}},"encoding":{"x":{"field":"g","type":"nominal","title":null,"scale":{"type":"band","domain":["Ctrl","LNA#1","LNA#2"],"paddingInner":0.32,"paddingOuter":0.18}},"y":{"field":"v","type":"quantitative","title":["Hypoxia_Lung pericytes,","Proliferation Index [log(OD)]"],"scale":{"domain":[-4,2],"nice":false}}}},
{"data":{"name":"sig"},"transform":[{"filter":"datum.p==='E'"}],"mark":{"type":"line","color":"black","strokeWidth":4},"encoding":{"x":{"field":"g","type":"nominal","title":null,"scale":{"type":"band","domain":["Ctrl","LNA#1","LNA#2"],"paddingInner":0.32,"paddingOuter":0.18}},"y":{"field":"v","type":"quantitative","title":["Hypoxia_Lung pericytes,","Proliferation Index [log(OD)]"],"scale":{"domain":[-4,2],"nice":false}},"detail":{"field":"b"}}},
{"data":{"name":"sig"},"transform":[{"filter":"datum.p==='E'"}],"mark":{"type":"tick","orient":"vertical","size":50,"thickness":4,"color":"black"},"encoding":{"x":{"field":"g","type":"nominal","title":null,"scale":{"type":"band","domain":["Ctrl","LNA#1","LNA#2"],"paddingInner":0.32,"paddingOuter":0.18}},"y":{"field":"v","type":"quantitative","title":["Hypoxia_Lung pericytes,","Proliferation Index [log(OD)]"],"scale":{"domain":[-4,2],"nice":false}}}},
{"data":{"name":"sig"},"transform":[{"filter":"datum.p==='E' && datum.b==='s' && datum.g==='Ctrl'"}],"mark":{"type":"text","font":"Liberation Sans","fontSize":72,"fontWeight":"bold","baseline":"alphabetic","align":"center","dy":13,"color":"black"},"encoding":{"x":{"field":"g","type":"nominal","title":null,"bandPosition":1.2353,"scale":{"type":"band","domain":["Ctrl","LNA#1","LNA#2"],"paddingInner":0.32,"paddingOuter":0.18}},"y":{"field":"v","type":"quantitative","title":["Hypoxia_Lung pericytes,","Proliferation Index [log(OD)]"],"scale":{"domain":[-4,2],"nice":false}},"text":{"field":"t"}}},
{"data":{"name":"sig"},"transform":[{"filter":"datum.p==='E' && datum.b==='l' && datum.g==='Ctrl'"}],"mark":{"type":"text","font":"Liberation Sans","fontSize":72,"fontWeight":"bold","baseline":"alphabetic","align":"center","dy":13,"color":"black"},"encoding":{"x":{"field":"g","type":"nominal","title":null,"bandPosition":1.9706,"scale":{"type":"band","domain":["Ctrl","LNA#1","LNA#2"],"paddingInner":0.32,"paddingOuter":0.18}},"y":{"field":"v","type":"quantitative","title":["Hypoxia_Lung pericytes,","Proliferation Index [log(OD)]"],"scale":{"domain":[-4,2],"nice":false}},"text":{"field":"t"}}}
]},
{"width":477,"height":10,"data":{"values":[{}]},"mark":{"type":"point","opacity":0}},
{"width":409,"height":650,"title":{"text":"F","dx":-353,"offset":26},"resolve":{"scale":{"xOffset":"independent"}},"layer":[
{"data":{"name":"pts"},"transform":[{"filter":"datum.p==='F'"}],"mark":{"type":"bar","fill":"white","stroke":"black","strokeWidth":4},"encoding":{"x":{"field":"g","type":"nominal","title":null,"scale":{"type":"band","domain":["Ctrl","LNA#1","LNA#2"],"paddingInner":0.32,"paddingOuter":0.18}},"y":{"aggregate":"mean","field":"v","type":"quantitative","title":["Hypoxia_hPASMCs,","Proliferation Index [log(OD)]"],"scale":{"domain":[-3,1],"nice":false},"axis":{"values":[-3,-2,-1,0,1],"format":"d"}}}},
{"data":{"values":[{}]},"mark":{"type":"rule","color":"black","strokeWidth":4},"encoding":{"y":{"datum":0,"type":"quantitative","title":["Hypoxia_hPASMCs,","Proliferation Index [log(OD)]"],"scale":{"domain":[-3,1],"nice":false}}}},
{"data":{"name":"pts"},"transform":[{"filter":"datum.p==='F'"}],"mark":{"type":"point","filled":true,"opacity":1},"encoding":{"x":{"field":"g","type":"nominal","title":null,"scale":{"type":"band","domain":["Ctrl","LNA#1","LNA#2"],"paddingInner":0.32,"paddingOuter":0.18}},"xOffset":{"field":"r","type":"nominal","scale":{"domain":["L","C","R"],"paddingInner":0,"paddingOuter":0.45}},"y":{"field":"v","type":"quantitative","title":["Hypoxia_hPASMCs,","Proliferation Index [log(OD)]"],"scale":{"domain":[-3,1],"nice":false}},"color":{"condition":{"test":"datum.g==='Ctrl' || (datum.p==='A' && datum.g==='LNA#2')","value":"#a30000"},"value":"#2591a3"},"shape":{"condition":[{"test":"datum.g==='Ctrl' || (datum.p==='A' && datum.g==='LNA#2')","value":"circle"},{"test":"datum.g==='LNA#1'","value":"square"}],"value":"triangle-up"},"size":{"condition":{"test":"datum.g==='LNA#2' && datum.p!=='A'","value":1100},"value":850}}},
{"data":{"name":"pts"},"transform":[{"filter":"datum.p==='F'"}],"mark":{"type":"errorbar","extent":"stderr","ticks":{"size":47,"thickness":4,"color":"black"},"rule":{"strokeWidth":4,"color":"black"}},"encoding":{"x":{"field":"g","type":"nominal","title":null,"scale":{"type":"band","domain":["Ctrl","LNA#1","LNA#2"],"paddingInner":0.32,"paddingOuter":0.18}},"y":{"field":"v","type":"quantitative","title":["Hypoxia_hPASMCs,","Proliferation Index [log(OD)]"],"scale":{"domain":[-3,1],"nice":false}}}},
{"data":{"name":"sig"},"transform":[{"filter":"datum.p==='F'"}],"mark":{"type":"line","color":"black","strokeWidth":4},"encoding":{"x":{"field":"g","type":"nominal","title":null,"scale":{"type":"band","domain":["Ctrl","LNA#1","LNA#2"],"paddingInner":0.32,"paddingOuter":0.18}},"y":{"field":"v","type":"quantitative","title":["Hypoxia_hPASMCs,","Proliferation Index [log(OD)]"],"scale":{"domain":[-3,1],"nice":false}},"detail":{"field":"b"}}},
{"data":{"name":"sig"},"transform":[{"filter":"datum.p==='F'"}],"mark":{"type":"tick","orient":"vertical","size":50,"thickness":4,"color":"black"},"encoding":{"x":{"field":"g","type":"nominal","title":null,"scale":{"type":"band","domain":["Ctrl","LNA#1","LNA#2"],"paddingInner":0.32,"paddingOuter":0.18}},"y":{"field":"v","type":"quantitative","title":["Hypoxia_hPASMCs,","Proliferation Index [log(OD)]"],"scale":{"domain":[-3,1],"nice":false}}}},
{"data":{"name":"sig"},"transform":[{"filter":"datum.p==='F' && datum.b==='s' && datum.g==='Ctrl'"}],"mark":{"type":"text","font":"Liberation Sans","fontSize":72,"fontWeight":"bold","baseline":"alphabetic","align":"center","dy":13,"color":"black"},"encoding":{"x":{"field":"g","type":"nominal","title":null,"bandPosition":1.2353,"scale":{"type":"band","domain":["Ctrl","LNA#1","LNA#2"],"paddingInner":0.32,"paddingOuter":0.18}},"y":{"field":"v","type":"quantitative","title":["Hypoxia_hPASMCs,","Proliferation Index [log(OD)]"],"scale":{"domain":[-3,1],"nice":false}},"text":{"field":"t"}}},
{"data":{"name":"sig"},"transform":[{"filter":"datum.p==='F' && datum.b==='l' && datum.g==='Ctrl'"}],"mark":{"type":"text","font":"Liberation Sans","fontSize":72,"fontWeight":"bold","baseline":"alphabetic","align":"center","dy":13,"color":"black"},"encoding":{"x":{"field":"g","type":"nominal","title":null,"bandPosition":1.9706,"scale":{"type":"band","domain":["Ctrl","LNA#1","LNA#2"],"paddingInner":0.32,"paddingOuter":0.18}},"y":{"field":"v","type":"quantitative","title":["Hypoxia_hPASMCs,","Proliferation Index [log(OD)]"],"scale":{"domain":[-3,1],"nice":false}},"text":{"field":"t"}}}
]},
{"width":539,"height":10,"data":{"values":[{}]},"mark":{"type":"point","opacity":0}},
{"width":393,"height":650,"title":{"text":"G","dx":-414,"offset":26},"resolve":{"scale":{"xOffset":"independent"}},"layer":[
{"data":{"name":"pts"},"transform":[{"filter":"datum.p==='G'"}],"mark":{"type":"bar","fill":"white","stroke":"black","strokeWidth":4},"encoding":{"x":{"field":"g","type":"nominal","title":null,"scale":{"type":"band","domain":["Ctrl","LNA#1","LNA#2"],"paddingInner":0.32,"paddingOuter":0.18}},"y":{"aggregate":"mean","field":"v","type":"quantitative","title":["IPAH_Lung pericytes,","Proliferation Index [log(OD)]"],"scale":{"domain":[-1,0.5],"nice":false},"axis":{"values":[-1,-0.5,0,0.5],"format":".1f"}}}},
{"data":{"values":[{}]},"mark":{"type":"rule","color":"black","strokeWidth":4},"encoding":{"y":{"datum":0,"type":"quantitative","title":["IPAH_Lung pericytes,","Proliferation Index [log(OD)]"],"scale":{"domain":[-1,0.5],"nice":false}}}},
{"data":{"name":"pts"},"transform":[{"filter":"datum.p==='G'"}],"mark":{"type":"point","filled":true,"opacity":1},"encoding":{"x":{"field":"g","type":"nominal","title":null,"scale":{"type":"band","domain":["Ctrl","LNA#1","LNA#2"],"paddingInner":0.32,"paddingOuter":0.18}},"xOffset":{"field":"r","type":"nominal","scale":{"domain":["L","C","R"],"paddingInner":0,"paddingOuter":0.45}},"y":{"field":"v","type":"quantitative","title":["IPAH_Lung pericytes,","Proliferation Index [log(OD)]"],"scale":{"domain":[-1,0.5],"nice":false}},"color":{"condition":{"test":"datum.g==='Ctrl' || (datum.p==='A' && datum.g==='LNA#2')","value":"#a30000"},"value":"#2591a3"},"shape":{"condition":[{"test":"datum.g==='Ctrl' || (datum.p==='A' && datum.g==='LNA#2')","value":"circle"},{"test":"datum.g==='LNA#1'","value":"square"}],"value":"triangle-up"},"size":{"condition":{"test":"datum.g==='LNA#2' && datum.p!=='A'","value":1100},"value":850}}},
{"data":{"name":"pts"},"transform":[{"filter":"datum.p==='G'"}],"mark":{"type":"errorbar","extent":"stderr","ticks":{"size":47,"thickness":4,"color":"black"},"rule":{"strokeWidth":4,"color":"black"}},"encoding":{"x":{"field":"g","type":"nominal","title":null,"scale":{"type":"band","domain":["Ctrl","LNA#1","LNA#2"],"paddingInner":0.32,"paddingOuter":0.18}},"y":{"field":"v","type":"quantitative","title":["IPAH_Lung pericytes,","Proliferation Index [log(OD)]"],"scale":{"domain":[-1,0.5],"nice":false}}}},
{"data":{"name":"sig"},"transform":[{"filter":"datum.p==='G'"}],"mark":{"type":"line","color":"black","strokeWidth":4},"encoding":{"x":{"field":"g","type":"nominal","title":null,"scale":{"type":"band","domain":["Ctrl","LNA#1","LNA#2"],"paddingInner":0.32,"paddingOuter":0.18}},"y":{"field":"v","type":"quantitative","title":["IPAH_Lung pericytes,","Proliferation Index [log(OD)]"],"scale":{"domain":[-1,0.5],"nice":false}},"detail":{"field":"b"}}},
{"data":{"name":"sig"},"transform":[{"filter":"datum.p==='G'"}],"mark":{"type":"tick","orient":"vertical","size":50,"thickness":4,"color":"black"},"encoding":{"x":{"field":"g","type":"nominal","title":null,"scale":{"type":"band","domain":["Ctrl","LNA#1","LNA#2"],"paddingInner":0.32,"paddingOuter":0.18}},"y":{"field":"v","type":"quantitative","title":["IPAH_Lung pericytes,","Proliferation Index [log(OD)]"],"scale":{"domain":[-1,0.5],"nice":false}}}},
{"data":{"name":"sig"},"transform":[{"filter":"datum.p==='G' && datum.b==='s' && datum.g==='Ctrl'"}],"mark":{"type":"text","font":"Liberation Sans","fontSize":72,"fontWeight":"bold","baseline":"alphabetic","align":"center","dy":13,"color":"black"},"encoding":{"x":{"field":"g","type":"nominal","title":null,"bandPosition":1.2353,"scale":{"type":"band","domain":["Ctrl","LNA#1","LNA#2"],"paddingInner":0.32,"paddingOuter":0.18}},"y":{"field":"v","type":"quantitative","title":["IPAH_Lung pericytes,","Proliferation Index [log(OD)]"],"scale":{"domain":[-1,0.5],"nice":false}},"text":{"field":"t"}}},
{"data":{"name":"sig"},"transform":[{"filter":"datum.p==='G' && datum.b==='l' && datum.g==='Ctrl'"}],"mark":{"type":"text","font":"Liberation Sans","fontSize":72,"fontWeight":"bold","baseline":"alphabetic","align":"center","dy":13,"color":"black"},"encoding":{"x":{"field":"g","type":"nominal","title":null,"bandPosition":1.9706,"scale":{"type":"band","domain":["Ctrl","LNA#1","LNA#2"],"paddingInner":0.32,"paddingOuter":0.18}},"y":{"field":"v","type":"quantitative","title":["IPAH_Lung pericytes,","Proliferation Index [log(OD)]"],"scale":{"domain":[-1,0.5],"nice":false}},"text":{"field":"t"}}}
]},
{"width":477,"height":10,"data":{"values":[{}]},"mark":{"type":"point","opacity":0}},
{"width":405,"height":650,"title":{"text":"H","dx":-357,"offset":26},"resolve":{"scale":{"xOffset":"independent"}},"layer":[
{"data":{"name":"pts"},"transform":[{"filter":"datum.p==='H'"}],"mark":{"type":"bar","fill":"white","stroke":"black","strokeWidth":4},"encoding":{"x":{"field":"g","type":"nominal","title":null,"scale":{"type":"band","domain":["Ctrl","LNA#1","LNA#2"],"paddingInner":0.32,"paddingOuter":0.18}},"y":{"aggregate":"mean","field":"v","type":"quantitative","title":["IPAH_hPASMCs,","Proliferation Index [log(OD)]"],"scale":{"domain":[-3,1],"nice":false},"axis":{"values":[-3,-2,-1,0,1],"format":"d"}}}},
{"data":{"values":[{}]},"mark":{"type":"rule","color":"black","strokeWidth":4},"encoding":{"y":{"datum":0,"type":"quantitative","title":["IPAH_hPASMCs,","Proliferation Index [log(OD)]"],"scale":{"domain":[-3,1],"nice":false}}}},
{"data":{"name":"pts"},"transform":[{"filter":"datum.p==='H'"}],"mark":{"type":"point","filled":true,"opacity":1},"encoding":{"x":{"field":"g","type":"nominal","title":null,"scale":{"type":"band","domain":["Ctrl","LNA#1","LNA#2"],"paddingInner":0.32,"paddingOuter":0.18}},"xOffset":{"field":"r","type":"nominal","scale":{"domain":["L","C","R"],"paddingInner":0,"paddingOuter":0.45}},"y":{"field":"v","type":"quantitative","title":["IPAH_hPASMCs,","Proliferation Index [log(OD)]"],"scale":{"domain":[-3,1],"nice":false}},"color":{"condition":{"test":"datum.g==='Ctrl' || (datum.p==='A' && datum.g==='LNA#2')","value":"#a30000"},"value":"#2591a3"},"shape":{"condition":[{"test":"datum.g==='Ctrl' || (datum.p==='A' && datum.g==='LNA#2')","value":"circle"},{"test":"datum.g==='LNA#1'","value":"square"}],"value":"triangle-up"},"size":{"condition":{"test":"datum.g==='LNA#2' && datum.p!=='A'","value":1100},"value":850}}},
{"data":{"name":"pts"},"transform":[{"filter":"datum.p==='H'"}],"mark":{"type":"errorbar","extent":"stderr","ticks":{"size":47,"thickness":4,"color":"black"},"rule":{"strokeWidth":4,"color":"black"}},"encoding":{"x":{"field":"g","type":"nominal","title":null,"scale":{"type":"band","domain":["Ctrl","LNA#1","LNA#2"],"paddingInner":0.32,"paddingOuter":0.18}},"y":{"field":"v","type":"quantitative","title":["IPAH_hPASMCs,","Proliferation Index [log(OD)]"],"scale":{"domain":[-3,1],"nice":false}}}},
{"data":{"name":"sig"},"transform":[{"filter":"datum.p==='H'"}],"mark":{"type":"line","color":"black","strokeWidth":4},"encoding":{"x":{"field":"g","type":"nominal","title":null,"scale":{"type":"band","domain":["Ctrl","LNA#1","LNA#2"],"paddingInner":0.32,"paddingOuter":0.18}},"y":{"field":"v","type":"quantitative","title":["IPAH_hPASMCs,","Proliferation Index [log(OD)]"],"scale":{"domain":[-3,1],"nice":false}},"detail":{"field":"b"}}},
{"data":{"name":"sig"},"transform":[{"filter":"datum.p==='H'"}],"mark":{"type":"tick","orient":"vertical","size":50,"thickness":4,"color":"black"},"encoding":{"x":{"field":"g","type":"nominal","title":null,"scale":{"type":"band","domain":["Ctrl","LNA#1","LNA#2"],"paddingInner":0.32,"paddingOuter":0.18}},"y":{"field":"v","type":"quantitative","title":["IPAH_hPASMCs,","Proliferation Index [log(OD)]"],"scale":{"domain":[-3,1],"nice":false}}}},
{"data":{"name":"sig"},"transform":[{"filter":"datum.p==='H' && datum.b==='s' && datum.g==='Ctrl'"}],"mark":{"type":"text","font":"Liberation Sans","fontSize":72,"fontWeight":"bold","baseline":"alphabetic","align":"center","dy":13,"color":"black"},"encoding":{"x":{"field":"g","type":"nominal","title":null,"bandPosition":1.2353,"scale":{"type":"band","domain":["Ctrl","LNA#1","LNA#2"],"paddingInner":0.32,"paddingOuter":0.18}},"y":{"field":"v","type":"quantitative","title":["IPAH_hPASMCs,","Proliferation Index [log(OD)]"],"scale":{"domain":[-3,1],"nice":false}},"text":{"field":"t"}}},
{"data":{"name":"sig"},"transform":[{"filter":"datum.p==='H' && datum.b==='l' && datum.g==='Ctrl'"}],"mark":{"type":"text","font":"Liberation Sans","fontSize":72,"fontWeight":"bold","baseline":"alphabetic","align":"center","dy":13,"color":"black"},"encoding":{"x":{"field":"g","type":"nominal","title":null,"bandPosition":1.9706,"scale":{"type":"band","domain":["Ctrl","LNA#1","LNA#2"],"paddingInner":0.32,"paddingOuter":0.18}},"y":{"field":"v","type":"quantitative","title":["IPAH_hPASMCs,","Proliferation Index [log(OD)]"],"scale":{"domain":[-3,1],"nice":false}},"text":{"field":"t"}}}
]},
{"width":1,"height":509,"data":{"values":[{}]},"mark":{"type":"point","opacity":0}},
{"width":1,"height":509,"data":{"values":[{}]},"mark":{"type":"point","opacity":0}},
{"width":1,"height":509,"data":{"values":[{}]},"mark":{"type":"point","opacity":0}},
{"width":1,"height":509,"data":{"values":[{}]},"mark":{"type":"point","opacity":0}},
{"width":1,"height":509,"data":{"values":[{}]},"mark":{"type":"point","opacity":0}},
{"width":1,"height":509,"data":{"values":[{}]},"mark":{"type":"point","opacity":0}},
{"width":1,"height":509,"data":{"values":[{}]},"mark":{"type":"point","opacity":0}},
{"width":380,"height":667,"title":{"text":"I","dx":-377,"offset":38},"resolve":{"scale":{"xOffset":"independent"}},"layer":[
{"data":{"name":"pts"},"transform":[{"filter":"datum.p==='I'"}],"mark":{"type":"bar","fill":"white","stroke":"black","strokeWidth":4},"encoding":{"x":{"field":"g","type":"nominal","title":null,"scale":{"type":"band","domain":["Ctrl","LNA#1","LNA#2"],"paddingInner":0.32,"paddingOuter":0.18}},"y":{"aggregate":"mean","field":"v","type":"quantitative","title":["Hypoxia_Lung pericytes,","Apoptotic Index [log(OD)]"],"scale":{"domain":[-2,0.5],"nice":false},"axis":{"values":[-2,-1.5,-1,-0.5,0,0.5],"format":".1f"}}}},
{"data":{"values":[{}]},"mark":{"type":"rule","color":"black","strokeWidth":4},"encoding":{"y":{"datum":0,"type":"quantitative","title":["Hypoxia_Lung pericytes,","Apoptotic Index [log(OD)]"],"scale":{"domain":[-2,0.5],"nice":false}}}},
{"data":{"name":"pts"},"transform":[{"filter":"datum.p==='I'"}],"mark":{"type":"point","filled":true,"opacity":1},"encoding":{"x":{"field":"g","type":"nominal","title":null,"scale":{"type":"band","domain":["Ctrl","LNA#1","LNA#2"],"paddingInner":0.32,"paddingOuter":0.18}},"xOffset":{"field":"r","type":"nominal","scale":{"domain":["L","C","R"],"paddingInner":0,"paddingOuter":0.45}},"y":{"field":"v","type":"quantitative","title":["Hypoxia_Lung pericytes,","Apoptotic Index [log(OD)]"],"scale":{"domain":[-2,0.5],"nice":false}},"color":{"condition":{"test":"datum.g==='Ctrl' || (datum.p==='A' && datum.g==='LNA#2')","value":"#a30000"},"value":"#2591a3"},"shape":{"condition":[{"test":"datum.g==='Ctrl' || (datum.p==='A' && datum.g==='LNA#2')","value":"circle"},{"test":"datum.g==='LNA#1'","value":"square"}],"value":"triangle-up"},"size":{"condition":{"test":"datum.g==='LNA#2' && datum.p!=='A'","value":1100},"value":850}}},
{"data":{"name":"pts"},"transform":[{"filter":"datum.p==='I'"}],"mark":{"type":"errorbar","extent":"stderr","ticks":{"size":47,"thickness":4,"color":"black"},"rule":{"strokeWidth":4,"color":"black"}},"encoding":{"x":{"field":"g","type":"nominal","title":null,"scale":{"type":"band","domain":["Ctrl","LNA#1","LNA#2"],"paddingInner":0.32,"paddingOuter":0.18}},"y":{"field":"v","type":"quantitative","title":["Hypoxia_Lung pericytes,","Apoptotic Index [log(OD)]"],"scale":{"domain":[-2,0.5],"nice":false}}}},
{"data":{"name":"sig"},"transform":[{"filter":"datum.p==='I'"}],"mark":{"type":"line","color":"black","strokeWidth":4},"encoding":{"x":{"field":"g","type":"nominal","title":null,"scale":{"type":"band","domain":["Ctrl","LNA#1","LNA#2"],"paddingInner":0.32,"paddingOuter":0.18}},"y":{"field":"v","type":"quantitative","title":["Hypoxia_Lung pericytes,","Apoptotic Index [log(OD)]"],"scale":{"domain":[-2,0.5],"nice":false}},"detail":{"field":"b"}}},
{"data":{"name":"sig"},"transform":[{"filter":"datum.p==='I'"}],"mark":{"type":"tick","orient":"vertical","size":50,"thickness":4,"color":"black"},"encoding":{"x":{"field":"g","type":"nominal","title":null,"scale":{"type":"band","domain":["Ctrl","LNA#1","LNA#2"],"paddingInner":0.32,"paddingOuter":0.18}},"y":{"field":"v","type":"quantitative","title":["Hypoxia_Lung pericytes,","Apoptotic Index [log(OD)]"],"scale":{"domain":[-2,0.5],"nice":false}}}},
{"data":{"name":"sig"},"transform":[{"filter":"datum.p==='I' && datum.b==='s' && datum.g==='Ctrl'"}],"mark":{"type":"text","font":"Liberation Sans","fontSize":72,"fontWeight":"bold","baseline":"alphabetic","align":"center","dy":13,"color":"black"},"encoding":{"x":{"field":"g","type":"nominal","title":null,"bandPosition":1.2353,"scale":{"type":"band","domain":["Ctrl","LNA#1","LNA#2"],"paddingInner":0.32,"paddingOuter":0.18}},"y":{"field":"v","type":"quantitative","title":["Hypoxia_Lung pericytes,","Apoptotic Index [log(OD)]"],"scale":{"domain":[-2,0.5],"nice":false}},"text":{"field":"t"}}},
{"data":{"name":"sig"},"transform":[{"filter":"datum.p==='I' && datum.b==='l' && datum.g==='Ctrl'"}],"mark":{"type":"text","font":"Liberation Sans","fontSize":72,"fontWeight":"bold","baseline":"alphabetic","align":"center","dy":13,"color":"black"},"encoding":{"x":{"field":"g","type":"nominal","title":null,"bandPosition":1.9706,"scale":{"type":"band","domain":["Ctrl","LNA#1","LNA#2"],"paddingInner":0.32,"paddingOuter":0.18}},"y":{"field":"v","type":"quantitative","title":["Hypoxia_Lung pericytes,","Apoptotic Index [log(OD)]"],"scale":{"domain":[-2,0.5],"nice":false}},"text":{"field":"t"}}}
]},
{"width":477,"height":10,"data":{"values":[{}]},"mark":{"type":"point","opacity":0}},
{"width":409,"height":667,"title":{"text":"J","dx":-353,"offset":38},"resolve":{"scale":{"xOffset":"independent"}},"layer":[
{"data":{"name":"pts"},"transform":[{"filter":"datum.p==='J'"}],"mark":{"type":"bar","fill":"white","stroke":"black","strokeWidth":4},"encoding":{"x":{"field":"g","type":"nominal","title":null,"scale":{"type":"band","domain":["Ctrl","LNA#1","LNA#2"],"paddingInner":0.32,"paddingOuter":0.18}},"y":{"aggregate":"mean","field":"v","type":"quantitative","title":["Hypoxia_hPASMCs,","Apoptotic Index [log(OD)]"],"scale":{"domain":[-4,1],"nice":false},"axis":{"values":[-4,-3,-2,-1,0,1],"format":"d"}}}},
{"data":{"values":[{}]},"mark":{"type":"rule","color":"black","strokeWidth":4},"encoding":{"y":{"datum":0,"type":"quantitative","title":["Hypoxia_hPASMCs,","Apoptotic Index [log(OD)]"],"scale":{"domain":[-4,1],"nice":false}}}},
{"data":{"name":"pts"},"transform":[{"filter":"datum.p==='J'"}],"mark":{"type":"point","filled":true,"opacity":1},"encoding":{"x":{"field":"g","type":"nominal","title":null,"scale":{"type":"band","domain":["Ctrl","LNA#1","LNA#2"],"paddingInner":0.32,"paddingOuter":0.18}},"xOffset":{"field":"r","type":"nominal","scale":{"domain":["L","C","R"],"paddingInner":0,"paddingOuter":0.45}},"y":{"field":"v","type":"quantitative","title":["Hypoxia_hPASMCs,","Apoptotic Index [log(OD)]"],"scale":{"domain":[-4,1],"nice":false}},"color":{"condition":{"test":"datum.g==='Ctrl' || (datum.p==='A' && datum.g==='LNA#2')","value":"#a30000"},"value":"#2591a3"},"shape":{"condition":[{"test":"datum.g==='Ctrl' || (datum.p==='A' && datum.g==='LNA#2')","value":"circle"},{"test":"datum.g==='LNA#1'","value":"square"}],"value":"triangle-up"},"size":{"condition":{"test":"datum.g==='LNA#2' && datum.p!=='A'","value":1100},"value":850}}},
{"data":{"name":"pts"},"transform":[{"filter":"datum.p==='J'"}],"mark":{"type":"errorbar","extent":"stderr","ticks":{"size":47,"thickness":4,"color":"black"},"rule":{"strokeWidth":4,"color":"black"}},"encoding":{"x":{"field":"g","type":"nominal","title":null,"scale":{"type":"band","domain":["Ctrl","LNA#1","LNA#2"],"paddingInner":0.32,"paddingOuter":0.18}},"y":{"field":"v","type":"quantitative","title":["Hypoxia_hPASMCs,","Apoptotic Index [log(OD)]"],"scale":{"domain":[-4,1],"nice":false}}}},
{"data":{"name":"sig"},"transform":[{"filter":"datum.p==='J'"}],"mark":{"type":"line","color":"black","strokeWidth":4},"encoding":{"x":{"field":"g","type":"nominal","title":null,"scale":{"type":"band","domain":["Ctrl","LNA#1","LNA#2"],"paddingInner":0.32,"paddingOuter":0.18}},"y":{"field":"v","type":"quantitative","title":["Hypoxia_hPASMCs,","Apoptotic Index [log(OD)]"],"scale":{"domain":[-4,1],"nice":false}},"detail":{"field":"b"}}},
{"data":{"name":"sig"},"transform":[{"filter":"datum.p==='J'"}],"mark":{"type":"tick","orient":"vertical","size":50,"thickness":4,"color":"black"},"encoding":{"x":{"field":"g","type":"nominal","title":null,"scale":{"type":"band","domain":["Ctrl","LNA#1","LNA#2"],"paddingInner":0.32,"paddingOuter":0.18}},"y":{"field":"v","type":"quantitative","title":["Hypoxia_hPASMCs,","Apoptotic Index [log(OD)]"],"scale":{"domain":[-4,1],"nice":false}}}},
{"data":{"name":"sig"},"transform":[{"filter":"datum.p==='J' && datum.b==='s' && datum.g==='Ctrl'"}],"mark":{"type":"text","font":"Liberation Sans","fontSize":72,"fontWeight":"bold","baseline":"alphabetic","align":"center","dy":13,"color":"black"},"encoding":{"x":{"field":"g","type":"nominal","title":null,"bandPosition":1.2353,"scale":{"type":"band","domain":["Ctrl","LNA#1","LNA#2"],"paddingInner":0.32,"paddingOuter":0.18}},"y":{"field":"v","type":"quantitative","title":["Hypoxia_hPASMCs,","Apoptotic Index [log(OD)]"],"scale":{"domain":[-4,1],"nice":false}},"text":{"field":"t"}}},
{"data":{"name":"sig"},"transform":[{"filter":"datum.p==='J' && datum.b==='l' && datum.g==='Ctrl'"}],"mark":{"type":"text","font":"Liberation Sans","fontSize":72,"fontWeight":"bold","baseline":"alphabetic","align":"center","dy":13,"color":"black"},"encoding":{"x":{"field":"g","type":"nominal","title":null,"bandPosition":1.9706,"scale":{"type":"band","domain":["Ctrl","LNA#1","LNA#2"],"paddingInner":0.32,"paddingOuter":0.18}},"y":{"field":"v","type":"quantitative","title":["Hypoxia_hPASMCs,","Apoptotic Index [log(OD)]"],"scale":{"domain":[-4,1],"nice":false}},"text":{"field":"t"}}}
]},
{"width":539,"height":10,"data":{"values":[{}]},"mark":{"type":"point","opacity":0}},
{"width":410,"height":667,"title":{"text":"K","dx":-414,"offset":38},"resolve":{"scale":{"xOffset":"independent"}},"layer":[
{"data":{"name":"pts"},"transform":[{"filter":"datum.p==='K'"}],"mark":{"type":"bar","fill":"white","stroke":"black","strokeWidth":4},"encoding":{"x":{"field":"g","type":"nominal","title":null,"scale":{"type":"band","domain":["Ctrl","LNA#1","LNA#2"],"paddingInner":0.32,"paddingOuter":0.18}},"y":{"aggregate":"mean","field":"v","type":"quantitative","title":["IPAH_Lung pericytes,","Apoptotic Index [log(OD)]"],"scale":{"domain":[-4,1],"nice":false},"axis":{"values":[-4,-3,-2,-1,0,1],"format":"d"}}}},
{"data":{"values":[{}]},"mark":{"type":"rule","color":"black","strokeWidth":4},"encoding":{"y":{"datum":0,"type":"quantitative","title":["IPAH_Lung pericytes,","Apoptotic Index [log(OD)]"],"scale":{"domain":[-4,1],"nice":false}}}},
{"data":{"name":"pts"},"transform":[{"filter":"datum.p==='K'"}],"mark":{"type":"point","filled":true,"opacity":1},"encoding":{"x":{"field":"g","type":"nominal","title":null,"scale":{"type":"band","domain":["Ctrl","LNA#1","LNA#2"],"paddingInner":0.32,"paddingOuter":0.18}},"xOffset":{"field":"r","type":"nominal","scale":{"domain":["L","C","R"],"paddingInner":0,"paddingOuter":0.45}},"y":{"field":"v","type":"quantitative","title":["IPAH_Lung pericytes,","Apoptotic Index [log(OD)]"],"scale":{"domain":[-4,1],"nice":false}},"color":{"condition":{"test":"datum.g==='Ctrl' || (datum.p==='A' && datum.g==='LNA#2')","value":"#a30000"},"value":"#2591a3"},"shape":{"condition":[{"test":"datum.g==='Ctrl' || (datum.p==='A' && datum.g==='LNA#2')","value":"circle"},{"test":"datum.g==='LNA#1'","value":"square"}],"value":"triangle-up"},"size":{"condition":{"test":"datum.g==='LNA#2' && datum.p!=='A'","value":1100},"value":850}}},
{"data":{"name":"pts"},"transform":[{"filter":"datum.p==='K'"}],"mark":{"type":"errorbar","extent":"stderr","ticks":{"size":47,"thickness":4,"color":"black"},"rule":{"strokeWidth":4,"color":"black"}},"encoding":{"x":{"field":"g","type":"nominal","title":null,"scale":{"type":"band","domain":["Ctrl","LNA#1","LNA#2"],"paddingInner":0.32,"paddingOuter":0.18}},"y":{"field":"v","type":"quantitative","title":["IPAH_Lung pericytes,","Apoptotic Index [log(OD)]"],"scale":{"domain":[-4,1],"nice":false}}}},
{"data":{"name":"sig"},"transform":[{"filter":"datum.p==='K'"}],"mark":{"type":"line","color":"black","strokeWidth":4},"encoding":{"x":{"field":"g","type":"nominal","title":null,"scale":{"type":"band","domain":["Ctrl","LNA#1","LNA#2"],"paddingInner":0.32,"paddingOuter":0.18}},"y":{"field":"v","type":"quantitative","title":["IPAH_Lung pericytes,","Apoptotic Index [log(OD)]"],"scale":{"domain":[-4,1],"nice":false}},"detail":{"field":"b"}}},
{"data":{"name":"sig"},"transform":[{"filter":"datum.p==='K'"}],"mark":{"type":"tick","orient":"vertical","size":50,"thickness":4,"color":"black"},"encoding":{"x":{"field":"g","type":"nominal","title":null,"scale":{"type":"band","domain":["Ctrl","LNA#1","LNA#2"],"paddingInner":0.32,"paddingOuter":0.18}},"y":{"field":"v","type":"quantitative","title":["IPAH_Lung pericytes,","Apoptotic Index [log(OD)]"],"scale":{"domain":[-4,1],"nice":false}}}},
{"data":{"name":"sig"},"transform":[{"filter":"datum.p==='K' && datum.b==='s' && datum.g==='Ctrl'"}],"mark":{"type":"text","font":"Liberation Sans","fontSize":72,"fontWeight":"bold","baseline":"alphabetic","align":"center","dy":13,"color":"black"},"encoding":{"x":{"field":"g","type":"nominal","title":null,"bandPosition":1.2353,"scale":{"type":"band","domain":["Ctrl","LNA#1","LNA#2"],"paddingInner":0.32,"paddingOuter":0.18}},"y":{"field":"v","type":"quantitative","title":["IPAH_Lung pericytes,","Apoptotic Index [log(OD)]"],"scale":{"domain":[-4,1],"nice":false}},"text":{"field":"t"}}},
{"data":{"name":"sig"},"transform":[{"filter":"datum.p==='K' && datum.b==='l' && datum.g==='Ctrl'"}],"mark":{"type":"text","font":"Liberation Sans","fontSize":72,"fontWeight":"bold","baseline":"alphabetic","align":"center","dy":13,"color":"black"},"encoding":{"x":{"field":"g","type":"nominal","title":null,"bandPosition":1.9706,"scale":{"type":"band","domain":["Ctrl","LNA#1","LNA#2"],"paddingInner":0.32,"paddingOuter":0.18}},"y":{"field":"v","type":"quantitative","title":["IPAH_Lung pericytes,","Apoptotic Index [log(OD)]"],"scale":{"domain":[-4,1],"nice":false}},"text":{"field":"t"}}}
]},
{"width":477,"height":10,"data":{"values":[{}]},"mark":{"type":"point","opacity":0}},
{"width":405,"height":667,"title":{"text":"L","dx":-357,"offset":38},"resolve":{"scale":{"xOffset":"independent"}},"layer":[
{"data":{"name":"pts"},"transform":[{"filter":"datum.p==='L'"}],"mark":{"type":"bar","fill":"white","stroke":"black","strokeWidth":4},"encoding":{"x":{"field":"g","type":"nominal","title":null,"scale":{"type":"band","domain":["Ctrl","LNA#1","LNA#2"],"paddingInner":0.32,"paddingOuter":0.18}},"y":{"aggregate":"mean","field":"v","type":"quantitative","title":["IPAH_hPASMCs,","Apoptotic Index [log(OD)]"],"scale":{"domain":[-4,1],"nice":false},"axis":{"values":[-4,-3,-2,-1,0,1],"format":"d"}}}},
{"data":{"values":[{}]},"mark":{"type":"rule","color":"black","strokeWidth":4},"encoding":{"y":{"datum":0,"type":"quantitative","title":["IPAH_hPASMCs,","Apoptotic Index [log(OD)]"],"scale":{"domain":[-4,1],"nice":false}}}},
{"data":{"name":"pts"},"transform":[{"filter":"datum.p==='L'"}],"mark":{"type":"point","filled":true,"opacity":1},"encoding":{"x":{"field":"g","type":"nominal","title":null,"scale":{"type":"band","domain":["Ctrl","LNA#1","LNA#2"],"paddingInner":0.32,"paddingOuter":0.18}},"xOffset":{"field":"r","type":"nominal","scale":{"domain":["L","C","R"],"paddingInner":0,"paddingOuter":0.45}},"y":{"field":"v","type":"quantitative","title":["IPAH_hPASMCs,","Apoptotic Index [log(OD)]"],"scale":{"domain":[-4,1],"nice":false}},"color":{"condition":{"test":"datum.g==='Ctrl' || (datum.p==='A' && datum.g==='LNA#2')","value":"#a30000"},"value":"#2591a3"},"shape":{"condition":[{"test":"datum.g==='Ctrl' || (datum.p==='A' && datum.g==='LNA#2')","value":"circle"},{"test":"datum.g==='LNA#1'","value":"square"}],"value":"triangle-up"},"size":{"condition":{"test":"datum.g==='LNA#2' && datum.p!=='A'","value":1100},"value":850}}},
{"data":{"name":"pts"},"transform":[{"filter":"datum.p==='L'"}],"mark":{"type":"errorbar","extent":"stderr","ticks":{"size":47,"thickness":4,"color":"black"},"rule":{"strokeWidth":4,"color":"black"}},"encoding":{"x":{"field":"g","type":"nominal","title":null,"scale":{"type":"band","domain":["Ctrl","LNA#1","LNA#2"],"paddingInner":0.32,"paddingOuter":0.18}},"y":{"field":"v","type":"quantitative","title":["IPAH_hPASMCs,","Apoptotic Index [log(OD)]"],"scale":{"domain":[-4,1],"nice":false}}}},
{"data":{"name":"sig"},"transform":[{"filter":"datum.p==='L'"}],"mark":{"type":"line","color":"black","strokeWidth":4},"encoding":{"x":{"field":"g","type":"nominal","title":null,"scale":{"type":"band","domain":["Ctrl","LNA#1","LNA#2"],"paddingInner":0.32,"paddingOuter":0.18}},"y":{"field":"v","type":"quantitative","title":["IPAH_hPASMCs,","Apoptotic Index [log(OD)]"],"scale":{"domain":[-4,1],"nice":false}},"detail":{"field":"b"}}},
{"data":{"name":"sig"},"transform":[{"filter":"datum.p==='L'"}],"mark":{"type":"tick","orient":"vertical","size":50,"thickness":4,"color":"black"},"encoding":{"x":{"field":"g","type":"nominal","title":null,"scale":{"type":"band","domain":["Ctrl","LNA#1","LNA#2"],"paddingInner":0.32,"paddingOuter":0.18}},"y":{"field":"v","type":"quantitative","title":["IPAH_hPASMCs,","Apoptotic Index [log(OD)]"],"scale":{"domain":[-4,1],"nice":false}}}},
{"data":{"name":"sig"},"transform":[{"filter":"datum.p==='L' && datum.b==='s' && datum.g==='Ctrl'"}],"mark":{"type":"text","font":"Liberation Sans","fontSize":72,"fontWeight":"bold","baseline":"alphabetic","align":"center","dy":13,"color":"black"},"encoding":{"x":{"field":"g","type":"nominal","title":null,"bandPosition":1.2353,"scale":{"type":"band","domain":["Ctrl","LNA#1","LNA#2"],"paddingInner":0.32,"paddingOuter":0.18}},"y":{"field":"v","type":"quantitative","title":["IPAH_hPASMCs,","Apoptotic Index [log(OD)]"],"scale":{"domain":[-4,1],"nice":false}},"text":{"field":"t"}}},
{"data":{"name":"sig"},"transform":[{"filter":"datum.p==='L' && datum.b==='l' && datum.g==='Ctrl'"}],"mark":{"type":"text","font":"Liberation Sans","fontSize":72,"fontWeight":"bold","baseline":"alphabetic","align":"center","dy":13,"color":"black"},"encoding":{"x":{"field":"g","type":"nominal","title":null,"bandPosition":1.9706,"scale":{"type":"band","domain":["Ctrl","LNA#1","LNA#2"],"paddingInner":0.32,"paddingOuter":0.18}},"y":{"field":"v","type":"quantitative","title":["IPAH_hPASMCs,","Apoptotic Index [log(OD)]"],"scale":{"domain":[-4,1],"nice":false}},"text":{"field":"t"}}}
]}
]
}
